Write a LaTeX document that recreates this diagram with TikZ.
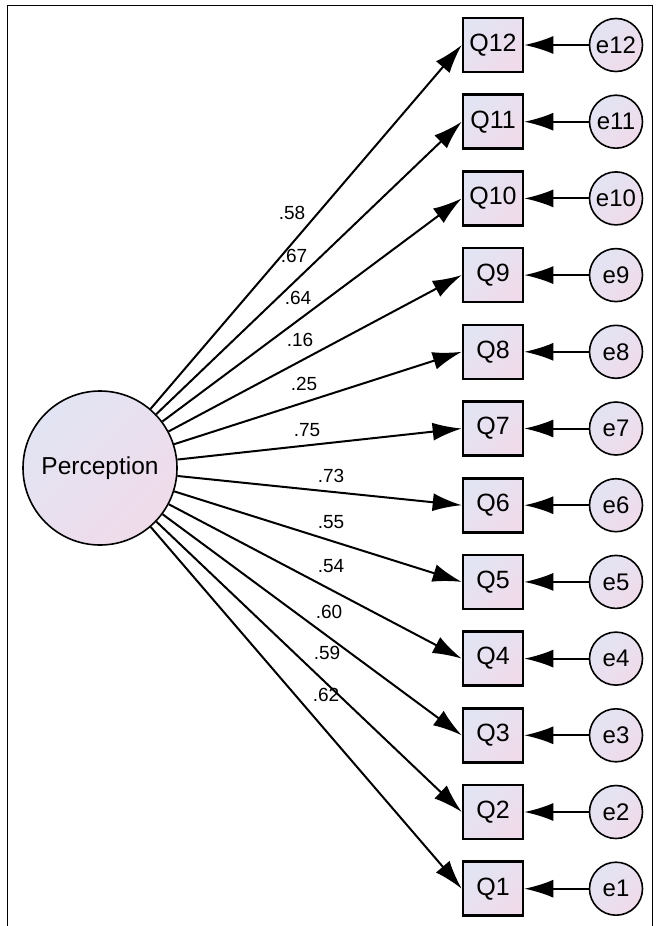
\documentclass[tikz,border=0pt]{standalone}
\usepackage{fontspec}
\setmainfont{Liberation Sans}
\usetikzlibrary{arrows.meta}

\definecolor{fillblue}{RGB}{226,228,243}
\definecolor{fillpink}{RGB}{240,219,234}

\tikzset{
  shadefill/.style={top color=fillblue, bottom color=fillpink, shading angle=45},
  latent/.style={circle, draw, line width=1.6pt, shadefill, inner sep=0pt,
    minimum size=154pt, font=\fontsize{24.5}{26}\selectfont},
  obsbox/.style={rectangle, draw, line width=2.6pt, shadefill, inner sep=0pt,
    minimum width=60pt, minimum height=54pt, font=\fontsize{25}{27}\selectfont},
  errcirc/.style={circle, draw, line width=1.6pt, shadefill, inner sep=0pt,
    minimum size=53pt, font=\fontsize{24}{26}\selectfont},
  path/.style={line width=2pt, -{Latex[length=29pt,width=18pt]}},
  loadlbl/.style={font=\fontsize{19}{21}\selectfont, inner sep=0pt},
}

\begin{document}
\begin{tikzpicture}[x=1pt,y=-1pt]
            \useasboundingbox (0,0) rectangle (657,926);
            % frame (open at the bottom)
            \draw[line width=1pt] (7,926) -- (7,5) -- (652,5) -- (652,926);

            \node[latent] (perc) at (100,468) {Perception};

            \foreach \i/\l/\lx/\ly in {12/.58/292/213, 11/.67/294/256, 10/.64/298/298,
                9/.16/300/340, 8/.25/304/384, 7/.75/307/430, 6/.73/331/476,
                5/.55/331/522, 4/.54/331/566, 3/.60/329/612, 2/.59/327/653, 1/.62/326/695}{
              \node[obsbox] (q\i) at (493,{45+76.7*(12-\i)}) {Q\i};
              \node[errcirc] (e\i) at (616,{45+76.7*(12-\i)}) {e\i};
              \draw[path] (e\i) -- (q\i);
              \draw[path] (perc) -- (q\i.west);
              \node[loadlbl] (w\i) at (\lx,\ly) {\l};
            }
        \end{tikzpicture}
\end{document}
